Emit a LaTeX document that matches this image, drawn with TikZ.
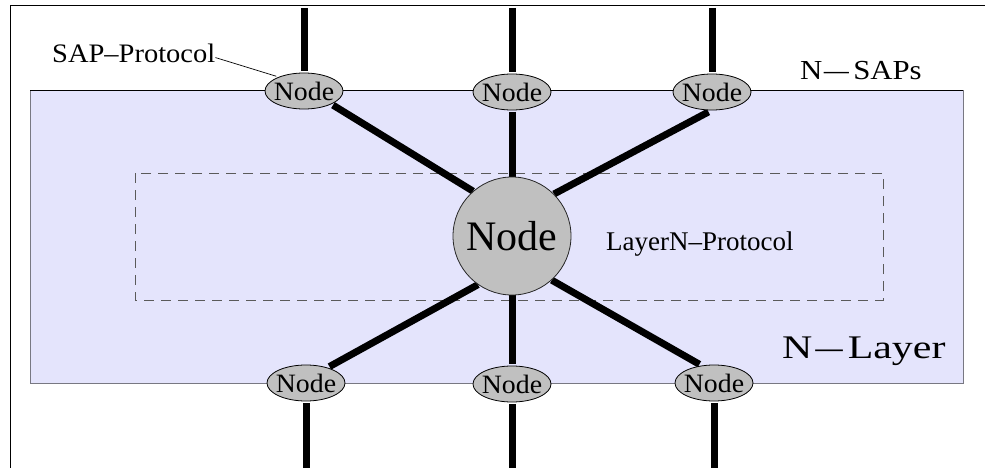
\documentclass[tikz,border=0pt]{standalone}
\usepackage{fontspec}
\setmainfont{Liberation Serif}
\usetikzlibrary{shapes.geometric}
\pgfdeclarelayer{bg}
\pgfsetlayers{bg,main}
\definecolor{layerfill}{RGB}{228,228,252}
\definecolor{nodefill}{RGB}{192,192,192}
\definecolor{layeredge}{RGB}{120,120,130}
\definecolor{dashgray}{RGB}{90,90,90}

\begin{document}
\begin{tikzpicture}[x=1pt,y=-1pt,
  sap/.style={shape=ellipse, draw=black, line width=0.8pt, fill=nodefill,
    minimum width=78pt, minimum height=36pt, inner sep=0pt, outer sep=2pt,
    label={[font=\fontsize{26.5}{28}\selectfont, inner sep=0pt]center:\scalebox{1.05}[1]{Node}}},
  hub/.style={shape=circle, draw=black!85, line width=0.8pt, fill=nodefill,
    minimum size=118pt, inner sep=0pt, font=\fontsize{42}{44}\selectfont},
  wire/.style={line width=7pt},
  lbl/.style={inner sep=0pt, anchor=base west}]

% canvas
\useasboundingbox (0,0) rectangle (985,468);

% outer frame (top and left edges)
\draw[line width=1pt] (985,6) -- (10,6) -- (10,468);

% service access points and the layer entity
\node[sap] (t1) at (304,91) {};
\node[sap] (t2) at (512,92) {};
\node[sap] (t3) at (712,92) {};
\node[sap] (b1) at (306,383) {};
\node[sap] (b2) at (512,384) {};
\node[sap] (b3) at (714,383) {};
\node[hub] (hub) at (512,236) {Node};

% free ends of the vertical wires
\coordinate (u1) at (304,8);
\coordinate (u2) at (512,8);
\coordinate (u3) at (712,8);
\coordinate (d1) at (306,468);
\coordinate (d2) at (512,468);
\coordinate (d3) at (714,468);

\begin{pgfonlayer}{bg}
  \fill[white] (0,0) rectangle (985,468);
  % the N-layer box
  \fill[layerfill] (30,91) rectangle (963,383);
  \draw[layeredge, line width=1pt] (30,91) rectangle (963,383);
  \draw[black, line width=1pt] (30,91) -- (963,91);
  % protocol region
  \draw[dashgray, line width=1pt, dash pattern=on 10pt off 7pt]
    (135,173) rectangle (883,300);
  % wires
  \draw[wire] (u1) -- (t1);
  \draw[wire] (u2) -- (t2);
  \draw[wire] (u3) -- (t3);
  \draw[wire] (t1.south east) -- (hub.131);
  \draw[wire] (t2) -- (hub);
  \draw[wire] (t3.-100) -- (hub.45);
  \draw[wire] (hub.235) -- (b1.35);
  \draw[wire] (hub) -- (b2);
  \draw[wire] (hub.-48) -- (b3.128);
  \draw[wire] (b1) -- (d1);
  \draw[wire] (b2) -- (d2);
  \draw[wire] (b3) -- (d3);
\end{pgfonlayer}

% labels
\node[lbl, font=\fontsize{26.7}{30}\selectfont] (saplbl) at (52,62.7)
  {\scalebox{1.067}[1]{SAP–Protocol}};
\draw[line width=0.7pt] ([yshift=-4pt]saplbl.east) -- (t1.152);

\node[lbl, font=\fontsize{27.5}{30}\selectfont] (nsaps) at (800,79.3)
  {\scalebox{1.12}[1]{N\kern1.5pt\scalebox{1.6}[1]{–}\kern4ptSAPs}};

\node[lbl, font=\fontsize{33}{36}\selectfont] (nlayer) at (782,358)
  {\scalebox{1.27}[1]{N\kern2.5pt\scalebox{1.29}[1]{–}\kern4ptLayer}};

\node[lbl, font=\fontsize{27}{30}\selectfont] (proto) at (606,250.7)
  {LayerN–Protocol};

\end{tikzpicture}
\end{document}
